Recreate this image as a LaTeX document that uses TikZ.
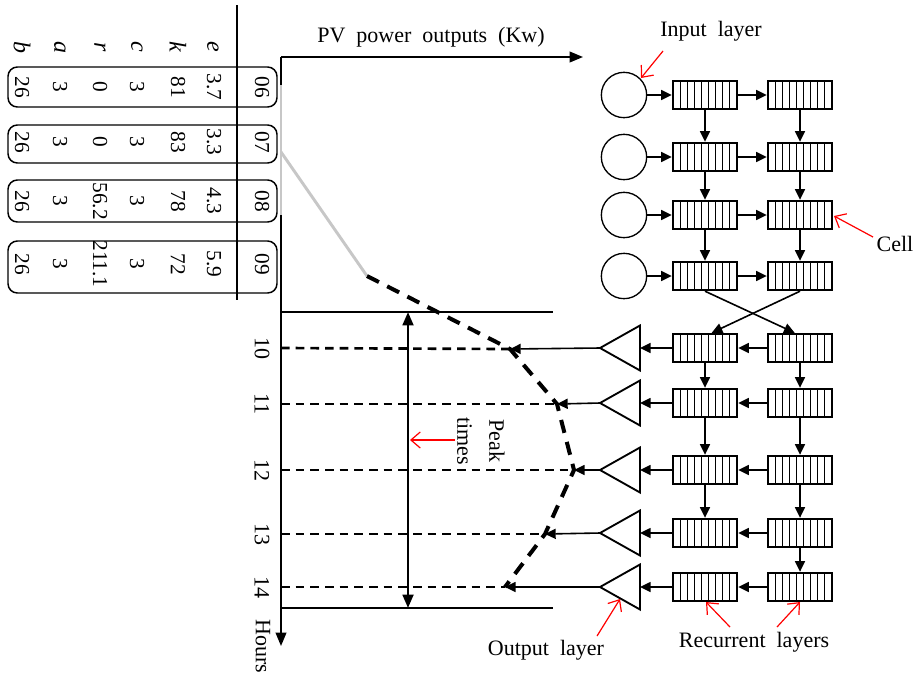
\documentclass[tikz,border=0pt]{standalone}
\usepackage{fontspec}
\setmainfont[WordSpace=2]{Liberation Serif}
\usetikzlibrary{arrows.meta}
\begin{document}
\begin{tikzpicture}[x=0.75pt,y=-0.75pt,
  lbl/.style={font=\fontsize{16.5}{19}\selectfont, inner sep=0pt},
  rlbl/.style={font=\fontsize{16.5}{19}\selectfont, inner sep=0pt, rotate=-90},
  tlbl/.style={font=\fontsize{16}{18}\selectfont, inner sep=0pt, rotate=-90},
  hlbl/.style={font=\fontsize{18}{20}\selectfont\itshape, inner sep=0pt, rotate=-90},
  cellbox/.style={draw, line width=1.8pt, minimum width=48pt, minimum height=21pt, inner sep=0pt, fill=white,
    path picture={\foreach \i in {1,...,8}{\draw[line width=0.7pt] ([xshift=\i*5.333pt]path picture bounding box.north west) -- ([xshift=\i*5.333pt]path picture bounding box.south west);}}},
  inbox/.style={draw, circle, minimum size=34pt, line width=1pt, inner sep=0pt},
  rowbox/.style={draw, rounded corners=7pt, line width=1.1pt, minimum width=201.75pt, inner sep=0pt},
  arr/.style={line width=1.2pt, -{Triangle[length=8pt,width=7.5pt]}},
  redarr/.style={red, line width=0.9pt, -{Straight Barb[length=7pt,width=12pt]}},
  axisline/.style={line width=1.3pt},
  hdash/.style={line width=2pt, dash pattern=on 6.5pt off 4.5pt},
  curvedash/.style={line width=3pt, dash pattern=on 10pt off 7pt},
  grayline/.style={line width=2.2pt, black!22},
  tri/.style={line width=1.4pt, line join=miter}
]
\useasboundingbox (0,0) rectangle (919,676);

% ---------- table ----------
\node[rowbox, minimum height=30pt] (row1) at (142.5,87) {};
\node[rowbox, minimum height=28.5pt] (row2) at (142.5,144) {};
\node[rowbox, minimum height=31.5pt] (row3) at (142.5,201) {};
\node[rowbox, minimum height=39pt] (row4) at (142.5,267) {};
\draw[line width=1.8pt] (237,5) -- (237,300);

\foreach \x/\t/\n in {22/b/hb, 60/a/ha, 100/r/hr, 137/c/hc, 178/k/hk, 213/e/he}
  \node[hlbl] (\n) at (\x,47) {\t};

\foreach \y/\r/\vb/\va/\vr/\vc/\vk/\ve/\vh in {87/1/26/3/0/3/81/3.7/06, 142/2/26/3/0/3/83/3.3/07, 201/3/26/3/56.2/3/78/4.3/08, 264/4/26/3/211.1/3/72/5.9/09}{
  \node[tlbl] (vb\r) at (22,\y) {\vb};
  \node[tlbl] (va\r) at (60,\y) {\va};
  \node[tlbl] (vr\r) at (100,\y) {\vr};
  \node[tlbl] (vc\r) at (137,\y) {\vc};
  \node[tlbl] (vk\r) at (178,\y) {\vk};
  \node[tlbl] (ve\r) at (214,\y) {\ve};
  \node[tlbl] (vh\r) at (262,\y) {\vh};
}

% ---------- axes ----------
\coordinate (O) at (281,57);
\coordinate (xend) at (583,57);
\coordinate (yend) at (281,646);
\draw[axisline, -{Triangle[length=10pt,width=8pt]}] (O) -- (xend);
\draw[axisline, -{Triangle[length=10pt,width=8pt]}] (O) -- (yend);
\node[lbl] (pvlbl) at (431,37) {PV power outputs (Kw)};
\node[rlbl] (hours) at (263,646) {Hours};

% gray part of curve
\coordinate (g1) at (281,85);
\coordinate (g2) at (281,215);
\coordinate (g3) at (281,152);
\coordinate (c0) at (367,276);
\draw[grayline] (g1) -- (g2);
\draw[grayline] (g3) -- (c0);

% dashed curve
\coordinate (p1) at (510,349);
\coordinate (p2) at (557,404);
\coordinate (p3) at (574,470);
\coordinate (p4) at (545,534);
\coordinate (p5) at (505,587);
\draw[curvedash] (c0) -- (p1) -- (p2) -- (p3) -- (p4) -- (p5);

% hours
\foreach \i/\y/\h in {1/348/10, 2/404/11, 3/470/12, 4/534/13, 5/587/14}{
  \node[rlbl] (hl\i) at (262,\y) {\h};
  \coordinate (ax\i) at (281,\y);
  \draw[hdash] (ax\i) -- (p\i);
}

% peak band
\coordinate (bt1) at (281,312);
\coordinate (bt2) at (553,312);
\coordinate (bb1) at (281,608);
\coordinate (bb2) at (553,608);
\draw[line width=2pt] (bt1) -- (bt2);
\draw[line width=2pt] (bb1) -- (bb2);
\coordinate (pk1) at (408,312);
\coordinate (pk2) at (408,608);
\draw[line width=2pt, {Triangle[length=10pt,width=8pt]}-{Triangle[length=10pt,width=8pt]}] (pk1) -- (pk2);
\node[rlbl, align=center, font=\fontsize{16.5}{24}\selectfont] (peak) at (481,441) {Peak\\times};
\coordinate (pkr1) at (455,440);
\coordinate (pkr2) at (410,440);
\draw[redarr] (pkr1) -- (pkr2);

% ---------- network: input part ----------
\foreach \i/\y in {1/95, 2/157, 3/215, 4/276}{
  \node[inbox] (in\i) at (624,\y) {};
  \node[cellbox] (a\i) at (705,\y) {};
  \node[cellbox] (b\i) at (800,\y) {};
  \draw[arr] (in\i) -- (a\i);
  \draw[arr] (a\i) -- (b\i);
}
\foreach \i/\j in {1/2, 2/3, 3/4}{
  \draw[arr] (a\i) -- (a\j);
  \draw[arr] (b\i) -- (b\j);
}

% ---------- network: output part ----------
\foreach \i/\y in {1/348, 2/403, 3/470, 4/533, 5/587}{
  \node[cellbox] (c\i) at (705,\y) {};
  \node[cellbox] (d\i) at (800,\y) {};
  \coordinate (t\i) at (600,\y);
  \coordinate (tb\i) at (640,\y);
  \draw[tri] (t\i) -- (640,\y-22.5) -- (640,\y+22.5) -- cycle;
  \draw[arr] (d\i) -- (c\i);
  \draw[arr] (c\i) -- (tb\i);
  \draw[arr] (t\i) -- (p\i);
}
\foreach \i/\j in {1/2, 2/3, 3/4}{
  \draw[arr] (c\i) -- (c\j);
}
\foreach \i/\j in {1/2, 2/3, 3/4, 4/5}{
  \draw[arr] (d\i) -- (d\j);
}
\draw[arr] (a4.south) -- ([xshift=-4pt]d1.north);
\draw[arr] (b4.south) -- ([xshift=5pt]c1.north);

% ---------- red labels ----------
\node[lbl] (inlbl) at (711,31) {Input layer};
\coordinate (ri1) at (663,51);
\coordinate (ri2) at (641,78);
\draw[redarr] (ri1) -- (ri2);

\node[lbl] (celllbl) at (895,244) {Cell};
\coordinate (rc1) at (873,237);
\coordinate (rc2) at (834,216);
\draw[redarr] (rc1) -- (rc2);

\node[lbl] (outlbl) at (546,650) {Output layer};
\coordinate (ro1) at (597,636);
\coordinate (ro2) at (620,599);
\draw[redarr] (ro1) -- (ro2);

\node[lbl] (reclbl) at (754,642) {Recurrent layers};
\coordinate (rr1) at (730,627);
\coordinate (rr2) at (706,602);
\coordinate (rr3) at (777,627);
\coordinate (rr4) at (800,602);
\draw[redarr] (rr1) -- (rr2);
\draw[redarr] (rr3) -- (rr4);
\end{tikzpicture}
\end{document}
